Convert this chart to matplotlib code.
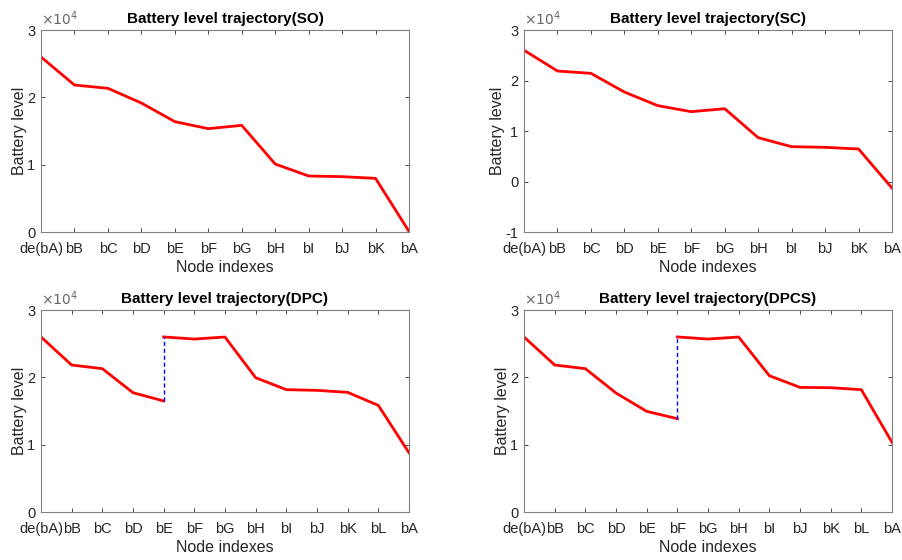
import matplotlib.pyplot as plt
from matplotlib.ticker import FuncFormatter

plt.rcParams['font.family'] = ['Liberation Sans', 'DejaVu Sans']

# node labels
nodes_so = ['de(bA)', 'bB', 'bC', 'bD', 'bE', 'bF', 'bG', 'bH', 'bI', 'bJ', 'bK', 'bA']
nodes_sc = ['de(bA)', 'bB', 'bC', 'bD', 'bE', 'bF', 'bG', 'bH', 'bI', 'bJ', 'bK', 'bA']
nodes_dpc = ['de(bA)', 'bB', 'bC', 'bD', 'bE', 'bF', 'bG', 'bH', 'bI', 'bJ', 'bK', 'bL', 'bA']
nodes_dpcs = ['de(bA)', 'bB', 'bC', 'bD', 'bE', 'bF', 'bG', 'bH', 'bI', 'bJ', 'bK', 'bL', 'bA']

# battery levels
level_so = [26000, 21830, 21340, 19160, 16390, 15350, 15840, 10100, 8320, 8220, 7970, 100]
level_sc = [26000, 21880, 21420, 17720, 15020, 13830, 14420, 8680, 6900, 6770, 6440, -1290]

# DPC / DPCS: recharge at one node -> two segments
dpc_before = [26000, 21830, 21290, 17720, 16490]
dpc_after = [26000, 25690, 25990, 19950, 18170, 18070, 17770, 15840, 8810]
dpc_charge_idx = 4

dpcs_before = [26000, 21830, 21290, 17670, 14950, 13860]
dpcs_after = [26000, 25690, 25990, 20250, 18510, 18460, 18170, 10350]
dpcs_charge_idx = 5

fig = plt.figure(figsize=(9.03, 5.6), dpi=100)
W = 0.4075
H = 0.3607
ax1 = fig.add_axes([0.0454, 0.5857, W, H])
ax2 = fig.add_axes([0.5803, 0.5857, W, H])
ax3 = fig.add_axes([0.0454, 0.0857, W, H])
ax4 = fig.add_axes([0.5803, 0.0857, W, H])

red = '#ff0000'
gray = '#262626'


def style(ax, labels, title, ylim):
    n = len(labels)
    ax.set_xlim(0, n - 1)
    ax.set_ylim(*ylim)
    ax.set_xticks(range(n))
    ax.set_xticklabels(labels)
    ax.set_yticks(range(ylim[0], ylim[1] + 1, 10000))
    ax.yaxis.set_major_formatter(FuncFormatter(lambda v, p: '%d' % round(v / 10000)))
    ax.tick_params(direction='in', length=3, width=0.6, colors=gray, labelsize=10.5,
                   top=True, right=True)
    ax.tick_params(axis='x', pad=7)
    ax.tick_params(axis='y', pad=4)
    for s in ax.spines.values():
        s.set_color('#808080')
        s.set_linewidth(0.8)
    ax.set_title(title, fontsize=11, fontweight='bold', pad=5)
    ax.set_xlabel('Node indexes', fontsize=11.5, color=gray, labelpad=3)
    ax.set_ylabel('Battery level', fontsize=11.5, color=gray, labelpad=0)
    ax.text(0.0, 1.01, r'$\times10^4$', transform=ax.transAxes, fontsize=10,
            color='#666666', ha='left', va='bottom')


ax1.plot(range(len(nodes_so)), level_so, color=red, lw=2)
style(ax1, nodes_so, 'Battery level trajectory(SO)', (0, 30000))

ax2.plot(range(len(nodes_sc)), level_sc, color=red, lw=2)
style(ax2, nodes_sc, 'Battery level trajectory(SC)', (-10000, 30000))

ax3.plot(range(len(dpc_before)), dpc_before, color=red, lw=2)
ax3.plot(range(dpc_charge_idx, dpc_charge_idx + len(dpc_after)), dpc_after, color=red, lw=2)
ax3.plot([dpc_charge_idx, dpc_charge_idx], [dpc_before[-1], dpc_after[0]],
         color='#0000ff', lw=1, ls=(0, (3, 2)))
style(ax3, nodes_dpc, 'Battery level trajectory(DPC)', (0, 30000))

ax4.plot(range(len(dpcs_before)), dpcs_before, color=red, lw=2)
ax4.plot(range(dpcs_charge_idx, dpcs_charge_idx + len(dpcs_after)), dpcs_after, color=red, lw=2)
ax4.plot([dpcs_charge_idx, dpcs_charge_idx], [dpcs_before[-1], dpcs_after[0]],
         color='#0000ff', lw=1, ls=(0, (3, 2)))
style(ax4, nodes_dpcs, 'Battery level trajectory(DPCS)', (0, 30000))

fig.savefig('out.png', dpi=100)
